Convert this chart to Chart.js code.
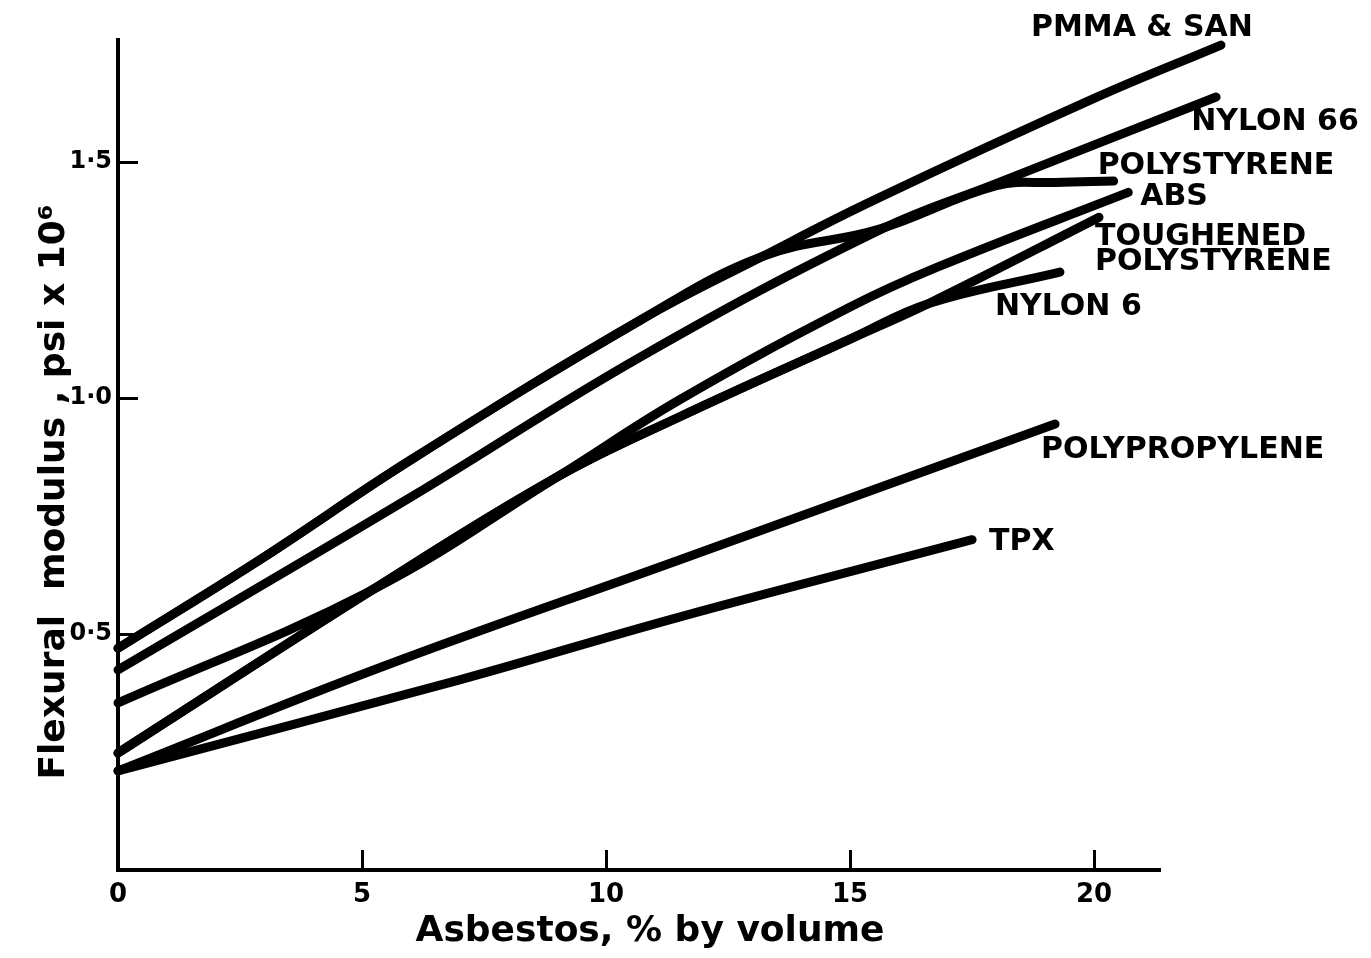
<!DOCTYPE html>
<html>
<head>
<meta charset="utf-8">
<title>Flexural modulus vs asbestos content</title>
<script src="https://cdn.jsdelivr.net/npm/chart.js@4.4.1/dist/chart.umd.min.js"></script>
<style>
  html, body { margin: 0; padding: 0; background: #fff; }
  canvas { display: block; }
</style>
</head>
<body>
<canvas id="grafico" width="1371" height="958"></canvas>
<script>
// asbestos, % by volume (x) and flexural modulus, psi x 10^6 (y)
const pmmaX = [0, 2.9, 6.0, 10.7, 13.2, 15.5, 20.0, 22.6];
const pmmaY = [0.47, 0.657, 0.869, 1.165, 1.30, 1.42, 1.635, 1.748];

const nylon66X = [0, 6.0, 10.7, 15.6, 18.0, 22.5];
const nylon66Y = [0.424, 0.79, 1.087, 1.356, 1.455, 1.638];

const poliestirenoX = [0, 2.9, 6.0, 10.7, 13.2, 15.6, 18.0, 19.2, 20.4];
const poliestirenoY = [0.47, 0.657, 0.869, 1.165, 1.30, 1.358, 1.45, 1.457, 1.46];

const absX = [0, 5.2, 9.0, 11.5, 15.0, 16.8, 20.7];
const absY = [0.354, 0.593, 0.833, 0.996, 1.193, 1.278, 1.436];

const toughX = [0, 5.2, 9.0, 11.5, 15.0, 16.6, 20.1];
const toughY = [0.248, 0.593, 0.833, 0.96, 1.125, 1.2, 1.383];

const nylon6X = [0, 5.2, 9.0, 11.5, 15.0, 16.6, 19.3];
const nylon6Y = [0.248, 0.593, 0.833, 0.96, 1.125, 1.2, 1.267];

const ppX = [0, 5.4, 11.5, 19.2];
const ppY = [0.21, 0.43, 0.657, 0.945];

const tpxX = [0, 7.0, 11.5, 17.5];
const tpxY = [0.21, 0.403, 0.536, 0.70];

const series = [
    { nombre: "PMMA & SAN", x: pmmaX, y: pmmaY },
    { nombre: "NYLON 66", x: nylon66X, y: nylon66Y },
    { nombre: "POLYSTYRENE", x: poliestirenoX, y: poliestirenoY },
    { nombre: "ABS", x: absX, y: absY },
    { nombre: "TOUGHENED\nPOLYSTYRENE", x: toughX, y: toughY },
    { nombre: "NYLON 6", x: nylon6X, y: nylon6Y },
    { nombre: "POLYPROPYLENE", x: ppX, y: ppY },
    { nombre: "TPX", x: tpxX, y: tpxY }
];

const xTicks = [0, 5, 10, 15, 20];
const yTicks = [0.5, 1.0, 1.5];

// where each curve label sits, relative to the curve end (px)
const offsetsEtiquetas = [
    [-190, -17], [-25, 25], [-16, -15], [12, 5],
    [-4, 20], [-65, 35], [-14, 26], [17, 3]
];

const fuente = '"DejaVu Sans", "Liberation Sans", sans-serif';

const etiquetas = {
    id: "etiquetas",
    afterDraw(chart) {
        const ctx = chart.ctx;
        ctx.save();
        ctx.fillStyle = "#000";
        ctx.textBaseline = "middle";
        ctx.textAlign = "left";
        ctx.font = "bold 30px " + fuente;
        chart.data.datasets.forEach((ds, i) => {
            const pts = chart.getDatasetMeta(i).data;
            const fin = pts[pts.length - 1];
            const [dx, dy] = offsetsEtiquetas[i];
            series[i].nombre.split("\n").forEach((linea, k) => {
                ctx.fillText(linea, fin.x + dx, fin.y + dy + k * 25);
            });
        });

        // axis titles
        ctx.font = "bold 36px " + fuente;
        ctx.textAlign = "center";
        ctx.fillText("Asbestos, % by volume", 650, 932);
        ctx.translate(55, 492);
        ctx.rotate(-Math.PI / 2);
        ctx.fillText("Flexural  modulus , psi x 10\u2076", 0, 0);
        ctx.restore();
    }
};

const config = {
    type: "line",
    data: {
        datasets: series.map((s) => {
            return {
                label: s.nombre,
                data: s.x.map((x, i) => ({ x: x, y: s.y[i] })),
                borderColor: "#000",
                borderWidth: 9,
                borderCapStyle: "round",
                borderJoinStyle: "round",
                pointRadius: 0,
                tension: 0.4,
                fill: false,
                clip: false
            };
        })
    },
    options: {
        responsive: false,
        animation: false,
        layout: { padding: { top: 40, right: 211, bottom: 0, left: 0 } },
        plugins: {
            legend: { display: false },
            tooltip: { enabled: false }
        },
        scales: {
            x: {
                type: "linear",
                min: 0,
                max: 21.35,
                afterFit: (s) => { s.height = 88; },
                afterBuildTicks: (s) => { s.ticks = xTicks.map((v) => ({ value: v })); },
                border: { display: true, color: "#000", width: 4 },
                grid: {
                    display: true,
                    drawOnChartArea: false,
                    drawTicks: true,
                    tickLength: -20,
                    tickWidth: 3,
                    tickColor: "#000"
                },
                ticks: {
                    color: "#000",
                    padding: 30,
                    maxRotation: 0,
                    font: { family: fuente, weight: "bold", size: 26 },
                    callback: (v) => String(v)
                }
            },
            y: {
                type: "linear",
                min: 0,
                max: 1.758,
                afterFit: (s) => { s.width = 118; },
                afterBuildTicks: (s) => { s.ticks = yTicks.map((v) => ({ value: v })); },
                border: { display: true, color: "#000", width: 4 },
                grid: {
                    display: true,
                    drawOnChartArea: false,
                    drawTicks: true,
                    tickLength: -20,
                    tickWidth: 3,
                    tickColor: "#000"
                },
                ticks: {
                    color: "#000",
                    padding: 26,
                    font: { family: fuente, weight: "bold", size: 24 },
                    callback: (v) => v.toFixed(1).replace(".", "\u00b7")
                }
            }
        }
    },
    plugins: [etiquetas]
};

const grafico = document.getElementById("grafico");
const myChart = new Chart(grafico, config);
</script>
</body>
</html>
